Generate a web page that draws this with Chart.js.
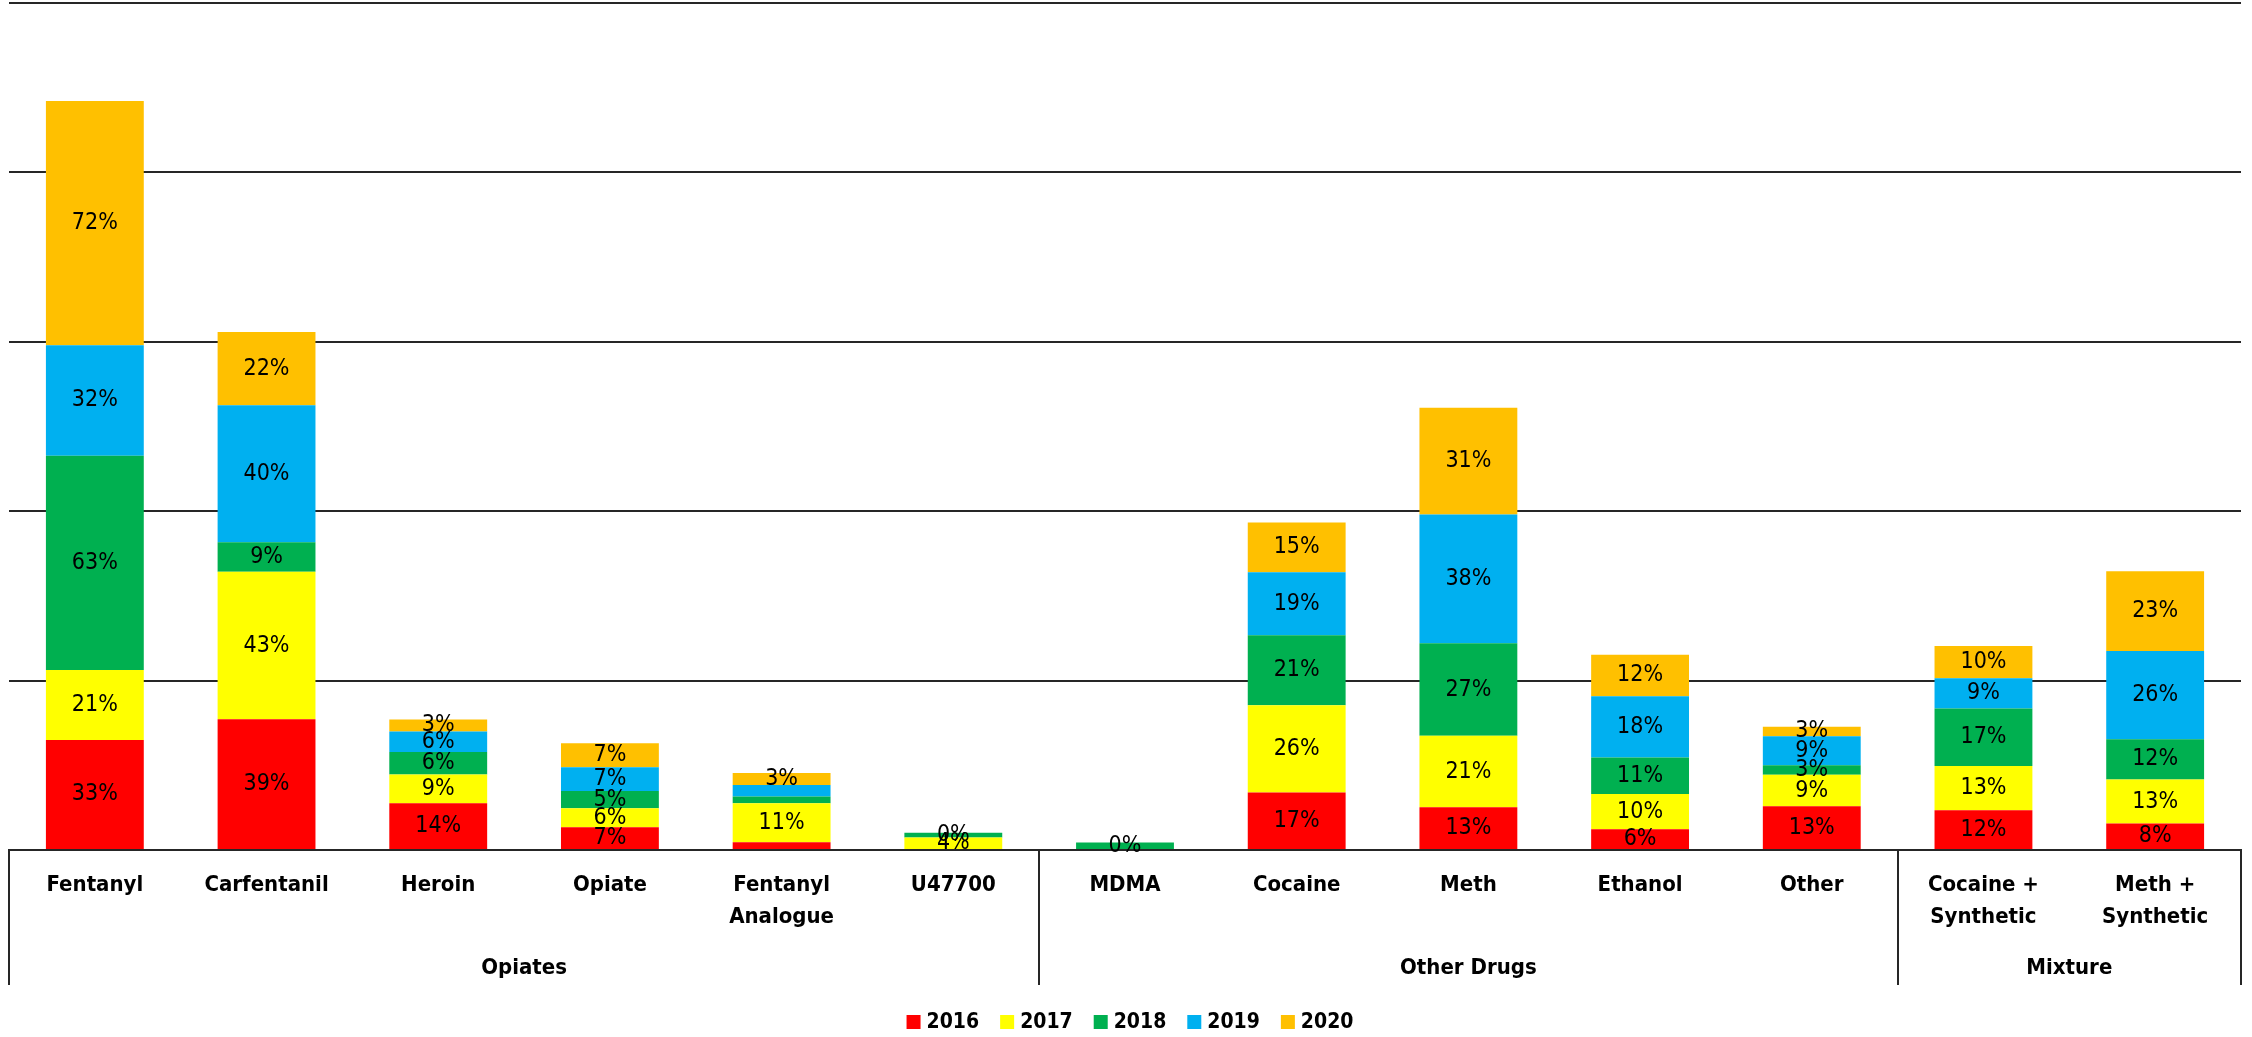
<!DOCTYPE html>
<html>
<head>
<meta charset="utf-8">
<title>Drug categories by year</title>
<script src="https://cdn.jsdelivr.net/npm/chart.js@4.4.1/dist/chart.umd.min.js"></script>
<style>
  html, body { margin: 0; padding: 0; background: #fff; overflow: hidden; }
  #wrap { width: 2252px; height: 1037px; }
</style>
</head>
<body>
<div id="wrap"><canvas id="chart"></canvas></div>
<script>
const categories = [
  ['Fentanyl'], ['Carfentanil'], ['Heroin'], ['Opiate'], ['Fentanyl', 'Analogue'], ['U47700'],
  ['MDMA'], ['Cocaine'], ['Meth'], ['Ethanol'], ['Other'],
  ['Cocaine +', 'Synthetic'], ['Meth +', 'Synthetic']
];
const groupNames = ['Opiates', 'Other Drugs', 'Mixture'];
const groupSizes = [6, 5, 2];
const years = ['2016', '2017', '2018', '2019', '2020'];
const yTicks = [0, 50, 100, 150, 200, 250];

// bar heights (percent)
const v2016 = [32.5, 38.6, 13.8, 6.7, 2.3, 0, 0, 17.0, 12.6, 6.1, 12.9, 11.7, 7.8];
const v2017 = [20.6, 43.5, 8.5, 5.6, 11.5, 3.7, 0, 25.7, 21.1, 10.4, 9.3, 13.1, 13.0];
const v2018 = [63.3, 8.7, 6.6, 5.1, 2.0, 1.4, 2.2, 20.7, 27.3, 10.8, 2.8, 17.0, 11.9];
const v2019 = [32.6, 40.5, 6.1, 7.0, 3.4, 0, 0, 18.6, 38.0, 18.1, 8.6, 8.9, 26.0];
const v2020 = [72.1, 21.6, 3.5, 7.1, 3.5, 0, 0, 14.7, 31.5, 12.2, 2.8, 9.5, 23.6];

// the labels printed on the segments (blank = no label shown)
const l2016 = ['33%', '39%', '14%', '7%', '', '', '', '17%', '13%', '6%', '13%', '12%', '8%'];
const l2017 = ['21%', '43%', '9%', '6%', '11%', '4%', '', '26%', '21%', '10%', '9%', '13%', '13%'];
const l2018 = ['63%', '9%', '6%', '5%', '', '0%', '0%', '21%', '27%', '11%', '3%', '17%', '12%'];
const l2019 = ['32%', '40%', '6%', '7%', '', '', '', '19%', '38%', '18%', '9%', '9%', '26%'];
const l2020 = ['72%', '22%', '3%', '7%', '3%', '', '', '15%', '31%', '12%', '3%', '10%', '23%'];

const colors = ['#FF0000', '#FFFF00', '#00B050', '#00B0F0', '#FFC000'];
const FONT = "'Liberation Sans Narrow', 'Arial Narrow', 'DejaVu Sans Condensed', sans-serif";
const LINE = '#262626';

const values = [v2016, v2017, v2018, v2019, v2020];
const segLabels = [l2016, l2017, l2018, l2019, l2020];

// segment labels, category / group axis and legend
const decorPlugin = {
  id: 'decor',
  afterDatasetsDraw(chart) {
    const ctx = chart.ctx;
    ctx.save();
    ctx.font = '23px ' + FONT;
    ctx.textAlign = 'center';
    ctx.textBaseline = 'middle';
    ctx.fillStyle = '#000';
    chart.data.datasets.forEach((ds, di) => {
      chart.getDatasetMeta(di).data.forEach((bar, i) => {
        const txt = ds.segLabels[i];
        if (!txt) return;
        ctx.fillText(txt, bar.x, (bar.y + bar.base) / 2);
      });
    });
    ctx.restore();
  },
  afterDraw(chart) {
    const ctx = chart.ctx;
    const x = chart.scales.x;
    const area = chart.chartArea;
    const base = area.bottom;
    ctx.save();

    // category names
    ctx.font = 'bold 22px ' + FONT;
    ctx.textAlign = 'center';
    ctx.textBaseline = 'middle';
    ctx.fillStyle = '#000';
    categories.forEach((lines, i) => {
      const cx = x.getPixelForValue(i);
      lines.forEach((t, k) => ctx.fillText(t, cx, base + 35 + k * 32));
    });

    // group names and separators
    ctx.strokeStyle = LINE;
    ctx.lineWidth = 2;
    let start = 0;
    const edges = [area.left];
    groupNames.forEach((g, gi) => {
      const end = start + groupSizes[gi] - 1;
      const cx = (x.getPixelForValue(start) + x.getPixelForValue(end)) / 2;
      ctx.fillText(g, cx, base + 118);
      if (gi < groupNames.length - 1) {
        edges.push((x.getPixelForValue(end) + x.getPixelForValue(end + 1)) / 2);
      }
      start = end + 1;
    });
    edges.push(area.right);
    edges.forEach(ex => {
      ctx.beginPath();
      ctx.moveTo(Math.round(ex), base);
      ctx.lineTo(Math.round(ex), base + 135);
      ctx.stroke();
    });

    // legend
    ctx.font = 'bold 21px ' + FONT;
    ctx.textAlign = 'left';
    const box = 14, gap = 6, spacing = 21;
    const widths = years.map(y => ctx.measureText(y).width);
    const total = widths.reduce((s, w) => s + box + gap + w, 0) + spacing * (years.length - 1);
    let lx = chart.width / 2 + 4 - total / 2;
    const ly = 1022;
    years.forEach((y, i) => {
      ctx.fillStyle = colors[i];
      ctx.fillRect(lx, ly - box / 2, box, box);
      ctx.fillStyle = '#000';
      ctx.fillText(y, lx + box + gap, ly + 1);
      lx += box + gap + widths[i] + spacing;
    });
    ctx.restore();
  }
};

new Chart(document.getElementById('chart'), {
  type: 'bar',
  data: {
    labels: categories,
    datasets: years.map((y, i) => ({
      label: y,
      data: values[i],
      segLabels: segLabels[i],
      backgroundColor: colors[i],
      borderWidth: 0,
      categoryPercentage: 1,
      barPercentage: 0.57
    }))
  },
  options: {
    responsive: true,
    maintainAspectRatio: false,
    devicePixelRatio: 1,
    animation: false,
    layout: { padding: { left: 9, right: 11, top: 3, bottom: 0 } },
    plugins: {
      legend: { display: false },
      tooltip: { enabled: false }
    },
    scales: {
      x: {
        stacked: true,
        ticks: { display: false },
        grid: { display: false, drawTicks: false },
        border: { display: true, color: LINE, width: 2 },
        afterFit(scale) { scale.height = 187; }
      },
      y: {
        stacked: true,
        min: 0,
        max: 250,
        afterBuildTicks(scale) { scale.ticks = yTicks.map(v => ({ value: v })); },
        ticks: { display: false },
        grid: { color: LINE, lineWidth: 2, drawTicks: false },
        border: { display: false }
      }
    }
  },
  plugins: [decorPlugin]
});
</script>
</body>
</html>
